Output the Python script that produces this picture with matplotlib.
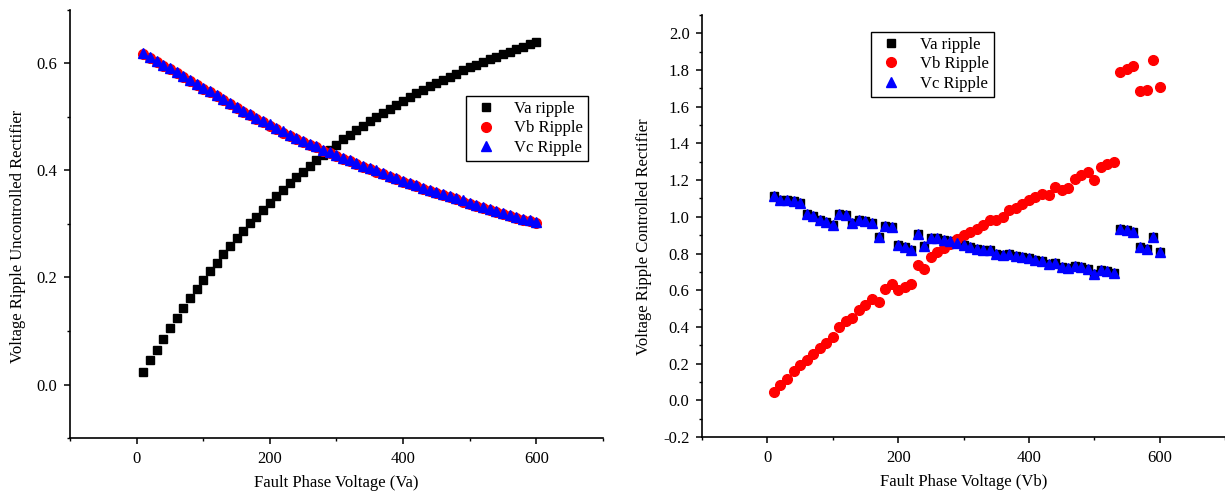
import matplotlib
matplotlib.use("Agg")
import matplotlib.pyplot as plt
from matplotlib.ticker import MultipleLocator, FormatStrFormatter

plt.rcParams['font.family'] = ['Liberation Serif', 'DejaVu Serif']
plt.rcParams['font.size'] = 12
plt.rcParams['axes.unicode_minus'] = False

# fault phase voltage, 10 V steps
volts = list(range(10, 610, 10))

# uncontrolled rectifier
va_unc = [0.024, 0.045, 0.065, 0.085, 0.105, 0.124, 0.143, 0.161, 0.179, 0.196,
          0.212, 0.228, 0.244, 0.259, 0.273, 0.287, 0.301, 0.314, 0.327, 0.340,
          0.352, 0.364, 0.376, 0.387, 0.398, 0.409, 0.419, 0.429, 0.439, 0.448,
          0.458, 0.467, 0.476, 0.484, 0.492, 0.500, 0.508, 0.515, 0.523, 0.530,
          0.537, 0.544, 0.551, 0.557, 0.563, 0.569, 0.575, 0.581, 0.587, 0.593,
          0.598, 0.603, 0.608, 0.613, 0.618, 0.622, 0.627, 0.631, 0.636, 0.640]
vb_unc = [0.617, 0.610, 0.603, 0.596, 0.589, 0.582, 0.575, 0.567, 0.560, 0.553,
          0.546, 0.539, 0.531, 0.524, 0.517, 0.510, 0.504, 0.497, 0.490, 0.484,
          0.478, 0.471, 0.465, 0.459, 0.454, 0.448, 0.443, 0.437, 0.432, 0.427,
          0.422, 0.417, 0.412, 0.407, 0.402, 0.398, 0.393, 0.388, 0.384, 0.379,
          0.375, 0.371, 0.366, 0.362, 0.358, 0.354, 0.350, 0.346, 0.342, 0.338,
          0.334, 0.330, 0.326, 0.323, 0.319, 0.315, 0.312, 0.308, 0.305, 0.301]
vc_unc = [0.619, 0.612, 0.605, 0.598, 0.591, 0.584, 0.577, 0.569, 0.562, 0.555,
          0.548, 0.541, 0.533, 0.526, 0.519, 0.512, 0.506, 0.499, 0.492, 0.486,
          0.480, 0.473, 0.467, 0.461, 0.456, 0.450, 0.445, 0.439, 0.434, 0.429,
          0.424, 0.419, 0.414, 0.409, 0.404, 0.400, 0.395, 0.390, 0.386, 0.381,
          0.377, 0.373, 0.368, 0.364, 0.360, 0.356, 0.352, 0.348, 0.344, 0.340,
          0.336, 0.332, 0.328, 0.325, 0.321, 0.317, 0.314, 0.310, 0.307, 0.303]

# controlled rectifier
vb_ctrl = [0.045, 0.082, 0.118, 0.158, 0.190, 0.219, 0.252, 0.283, 0.313, 0.343,
           0.400, 0.430, 0.448, 0.491, 0.520, 0.553, 0.535, 0.604, 0.633, 0.600,
           0.618, 0.636, 0.736, 0.714, 0.781, 0.808, 0.832, 0.854, 0.881, 0.899,
           0.918, 0.934, 0.954, 0.981, 0.981, 0.999, 1.035, 1.050, 1.072, 1.090,
           1.108, 1.124, 1.120, 1.162, 1.144, 1.159, 1.208, 1.226, 1.244, 1.202,
           1.271, 1.286, 1.298, 1.788, 1.806, 1.820, 1.688, 1.694, 1.857, 1.706]
vc_ctrl = [1.111, 1.090, 1.093, 1.086, 1.075, 1.017, 1.003, 0.985, 0.972, 0.954,
           1.014, 1.008, 0.967, 0.985, 0.978, 0.967, 0.891, 0.949, 0.942, 0.846,
           0.833, 0.820, 0.906, 0.840, 0.887, 0.882, 0.876, 0.867, 0.858, 0.849,
           0.836, 0.827, 0.821, 0.818, 0.796, 0.790, 0.796, 0.785, 0.781, 0.778,
           0.767, 0.762, 0.745, 0.750, 0.727, 0.722, 0.733, 0.727, 0.718, 0.687,
           0.709, 0.703, 0.696, 0.936, 0.930, 0.920, 0.835, 0.826, 0.889, 0.806]
# Va ripple sits on top of Vc ripple in the controlled case
va_ctrl = list(vc_ctrl)

fig = plt.figure(figsize=(12.25, 4.97), dpi=100)
ax1 = fig.add_axes([0.0571, 0.1187, 0.4351, 0.8612])
ax2 = fig.add_axes([0.5731, 0.1207, 0.4269, 0.8491])


def style_axes(ax):
    for s in ['top', 'right']:
        ax.spines[s].set_visible(False)
    for s in ['left', 'bottom']:
        ax.spines[s].set_linewidth(1.2)
    ax.tick_params(which='major', direction='out', length=4, width=1.1, pad=5)
    ax.tick_params(which='minor', direction='out', length=2.5, width=1.0)
    ax.set_xlim(-100, 700)
    ax.xaxis.set_major_locator(MultipleLocator(200))
    ax.xaxis.set_minor_locator(MultipleLocator(100))
    ax.yaxis.set_major_formatter(FormatStrFormatter('%.1f'))


def draw(ax, va, vb, vc):
    ax.plot(volts, va, 's', color='black', ms=6, label='Va ripple')
    ax.plot(volts, vb, 'o', color='red', ms=7, label='Vb Ripple')
    ax.plot(volts, vc, '^', color='blue', ms=7.8, label='Vc Ripple')


def add_legend(ax, anchor):
    ax.legend(loc='upper left', bbox_to_anchor=anchor, borderaxespad=0,
              fancybox=False, edgecolor='black', framealpha=1, labelspacing=0.2,
              handletextpad=0.8, borderpad=0.3, handlelength=1.8)


draw(ax1, va_unc, vb_unc, vc_unc)
style_axes(ax1)
ax1.set_ylim(-0.1, 0.7)
ax1.yaxis.set_major_locator(MultipleLocator(0.2))
ax1.yaxis.set_minor_locator(MultipleLocator(0.1))
ax1.set_xlabel('Fault Phase Voltage (Va)', labelpad=6)
ax1.set_ylabel('Voltage Ripple Uncontrolled Rectifier')
ax1.yaxis.set_label_coords(-0.083, 0.472)
add_legend(ax1, (0.743, 0.799))

draw(ax2, va_ctrl, vb_ctrl, vc_ctrl)
style_axes(ax2)
ax2.set_ylim(-0.2, 2.1)
ax2.yaxis.set_major_locator(MultipleLocator(0.2))
ax2.yaxis.set_minor_locator(MultipleLocator(0.1))
ax2.set_xlabel('Fault Phase Voltage (Vb)', labelpad=6)
ax2.set_ylabel('Voltage Ripple Controlled Rectifier')
ax2.yaxis.set_label_coords(-0.096, 0.474)
add_legend(ax2, (0.324, 0.96))

fig.savefig('out.png', dpi=100)
